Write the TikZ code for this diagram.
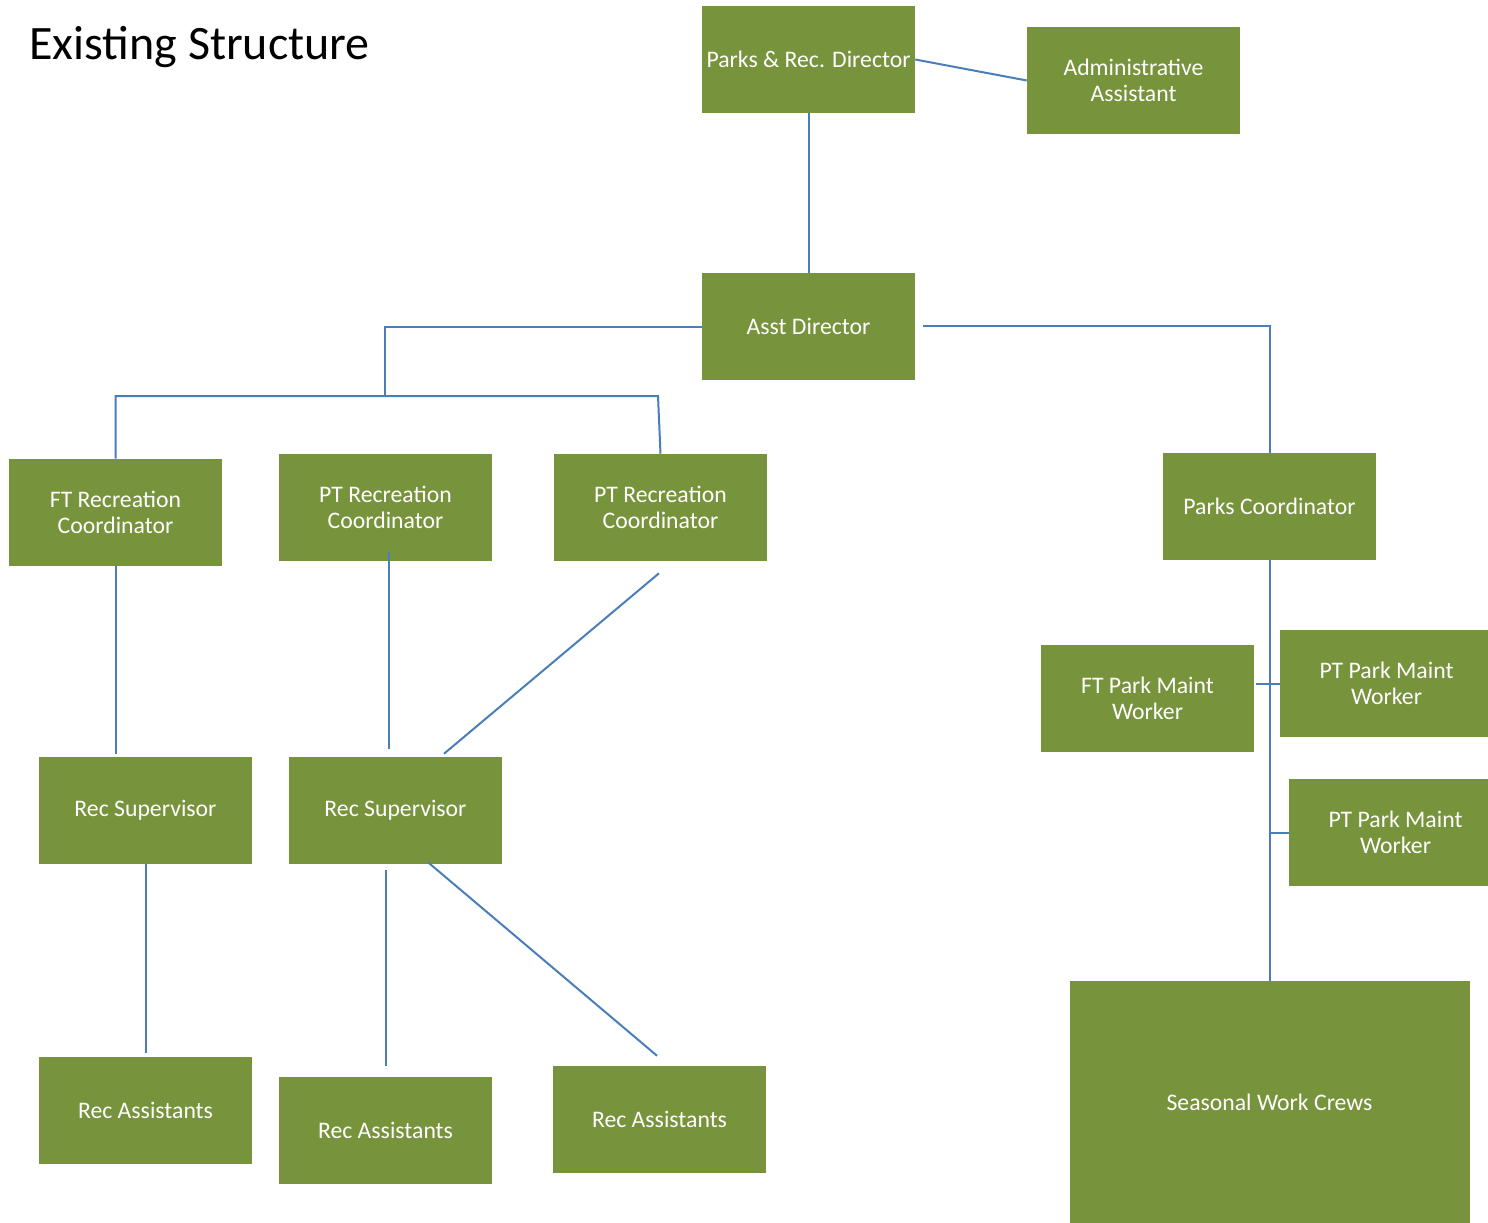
\documentclass[tikz,border=0pt]{standalone}
\usepackage{fontspec}
\setmainfont{Carlito}
\usetikzlibrary{calc}
\definecolor{boxgreen}{HTML}{77933C}
\definecolor{lineblue}{HTML}{4A7EBB}
\tikzset{
  orgbox/.style={fill=boxgreen, text=white, inner sep=0pt, align=center,
    minimum width=159.75pt, minimum height=80.25pt,
    font=\fontsize{17.8}{19.5}\selectfont},
  link/.style={draw=lineblue, line width=1.5pt}
}
\begin{document}
\begin{tikzpicture}[x=0.75pt,y=-0.75pt]
\useasboundingbox (0,0) rectangle (1488,1223);
% title
\node[anchor=base west, inner sep=0pt, font=\fontsize{36}{40}\selectfont] (title) at (29,60) {Existing Structure};
% boxes
\node[orgbox] (dir) at (808.5,59.5) {Parks \& Rec. Director};
\node[orgbox] (adm) at (1133.5,80.5) {Administrative\\Assistant};
\node[orgbox] (asst) at (808.5,326.5) {Asst Director};
\node[orgbox] (ftc) at (115.5,512.5) {FT Recreation\\Coordinator};
\node[orgbox] (ptc1) at (385.5,507.5) {PT Recreation\\Coordinator};
\node[orgbox] (ptc2) at (660.5,507.5) {PT Recreation\\Coordinator};
\node[orgbox] (pc) at (1269.5,506.5) {Parks Coordinator};
\node[orgbox] (fpm) at (1147.5,698.5) {FT Park Maint\\Worker};
\node[orgbox] (ppm1) at (1386.5,683.5) {PT Park Maint\\Worker};
\node[orgbox] (ppm2) at (1395.5,832.5) {PT Park Maint\\Worker};
\node[orgbox] (rs1) at (145.5,810.5) {Rec Supervisor};
\node[orgbox] (rs2) at (395.5,810.5) {Rec Supervisor};
\node[orgbox] (ra1) at (145.5,1110.5) {Rec Assistants};
\node[orgbox] (ra2) at (385.5,1130.5) {Rec Assistants};
\node[orgbox] (ra3) at (659.5,1119.5) {Rec Assistants};
\node[orgbox, minimum width=300pt, minimum height=181.5pt] (sea) at (1269.5,1102) {Seasonal Work Crews};
% junctions
\coordinate (j1) at (385,396);
\coordinate (j2) at (658,396);
% connectors
\draw[link] (dir.east) -- (adm.west);
\draw[link] (dir.south) -- (asst.north);
\draw[link] (asst.west) -| (j1);
\draw[link] (ftc.north) |- (j2) -- (ptc2.north);
\draw[link] ($(asst.east)+(8,-1)$) -| (pc.north);
\draw[link] (ftc.south) -- ($(ftc.south |- rs1.north)+(0,-3)$);
\draw[link] ($(ptc1.south)+(3,-9)$) -- ($(ptc1.south |- rs2.north)+(3,-8)$);
\draw[link] ($(ptc2.south)+(-1.5,12)$) -- ($(rs2.north)+(48.5,-3)$);
\draw[link] (rs1.south) -- ($(ra1.north)+(0,-4)$);
\draw[link] ($(ra2.north |- rs2.south)+(0,6)$) -- ($(ra2.north)+(0,-11)$);
\draw[link] ($(rs2.south)+(32.5,-2)$) -- ($(ra3.north)+(-2.5,-10)$);
\draw[link] (pc.south) -- (sea.north);
\draw[link] (ppm1.west) -- ++(-24,0);
\draw[link] (ppm2.west) -- (ppm2.west -| pc.south);
\end{tikzpicture}
\end{document}
